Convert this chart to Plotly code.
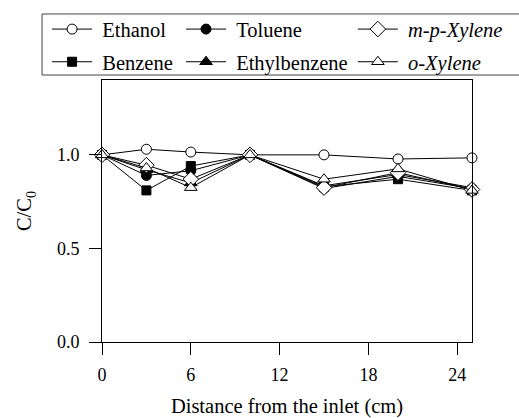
import plotly.graph_objects as go

distance = [0, 3, 6, 10, 15, 20, 25]
ethanol = [1.0, 1.03, 1.015, 1.0, 1.0, 0.978, 0.984]
benzene = [1.0, 0.81, 0.94, 1.0, 0.83, 0.87, 0.81]
toluene = [1.0, 0.89, 0.915, 1.0, 0.82, 0.885, 0.82]
mp_xylene = [1.0, 0.945, 0.87, 1.0, 0.825, 0.905, 0.815]
ethylbenzene = [1.0, 0.92, 0.85, 1.0, 0.835, 0.895, 0.825]
o_xylene = [1.0, 0.93, 0.825, 1.0, 0.87, 0.925, 0.81]

x_ticks = [0, 6, 12, 18, 24]
y_ticks = [0.0, 0.5, 1.0]
y_ticklabels = ["0.0", "0.5", "1.0"]

FONT = "Liberation Serif"
NB = "\u00a0"

series = [
    (NB + "Ethanol", ethanol, "circle-open", "legend"),
    (NB + "Benzene", benzene, "square", "legend"),
    (NB + "Toluene", toluene, "circle", "legend2"),
    (NB + "Ethylbenzene", ethylbenzene, "triangle-up", "legend2"),
    (NB + "<i>m-p-Xylene</i>", mp_xylene, "diamond-open", "legend3"),
    (NB + "<i>o-Xylene</i>", o_xylene, "triangle-up-open", "legend3"),
]

fig = go.Figure()
for name, vals, sym, leg in series:
    open_ = sym.endswith("open")
    base = sym.replace("-open", "")
    size = 10
    if base == "diamond":
        size = 12
    if base == "triangle-up":
        size = 11
    if base == "square":
        size = 9
    fig.add_trace(go.Scatter(
        x=distance, y=vals, name=name, mode="lines+markers",
        legend=leg, legendgroup=name,
        line=dict(color="black", width=1),
        marker=dict(symbol=base, size=size,
                    color="white" if open_ else "black",
                    line=dict(color="black", width=1)),
        cliponaxis=False,
    ))

legend_common = dict(
    bgcolor="rgba(0,0,0,0)", borderwidth=0,
    font=dict(family=FONT, size=20.5, color="black"),
    tracegroupgap=3, orientation="v",
    yanchor="top", xanchor="left", itemwidth=40,
)

fig.update_layout(
    width=519, height=418,
    margin=dict(l=102, r=47, t=80, b=76, autoexpand=False),
    paper_bgcolor="white", plot_bgcolor="white",
    font=dict(family=FONT, color="black"),
    showlegend=True,
    legend=dict(x=-0.1484, y=1.27, **legend_common),
    legend2=dict(x=0.2136, y=1.27, **legend_common),
    legend3=dict(x=0.678, y=1.27, **legend_common),
    xaxis=dict(
        range=[0, 25], tickvals=x_ticks, ticks="outside", ticklen=12,
        tickwidth=1, tickcolor="black", showline=True, linecolor="black",
        linewidth=1, mirror=True, showgrid=False, zeroline=False,
        ticklabelstandoff=4, automargin=False,
        tickfont=dict(family=FONT, size=18, color="black"),
        title=dict(text="Distance from the inlet (cm)",
                   font=dict(family=FONT, size=20.5, color="black"), standoff=19),
    ),
    yaxis=dict(
        range=[0, 1.4], tickvals=y_ticks, ticktext=y_ticklabels, ticks="outside",
        ticklen=12, tickwidth=1, tickcolor="black", showline=True,
        linecolor="black", linewidth=1, mirror=True, showgrid=False,
        zeroline=False, ticklabelstandoff=6, automargin=False,
        tickfont=dict(family=FONT, size=18, color="black"),
        title=dict(text="C/C<sub>0</sub>",
                   font=dict(family=FONT, size=20.5, color="black"), standoff=19),
    ),
    shapes=[dict(type="rect", xref="paper", yref="paper",
                 x0=-0.162, x1=1.15, y0=1.019, y1=1.252,
                 line=dict(color="#444", width=1), fillcolor="rgba(0,0,0,0)")],
)

fig.write_html("out.html")
